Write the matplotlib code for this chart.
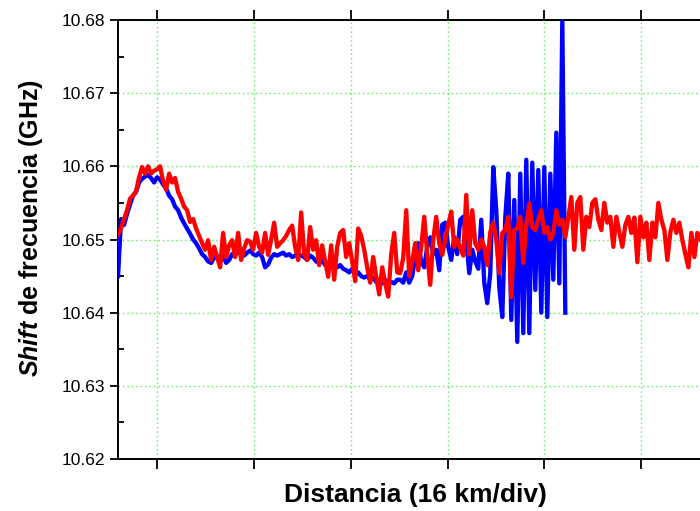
import numpy as np
import matplotlib
matplotlib.use("Agg")
import matplotlib.pyplot as plt
from matplotlib.ticker import MultipleLocator, NullFormatter

plt.rcParams["font.family"] = ["Liberation Sans", "DejaVu Sans"]
plt.rcParams["mathtext.fontset"] = "custom"
plt.rcParams["mathtext.bfit"] = "Liberation Sans:italic:bold"
plt.rcParams["mathtext.rm"] = "Liberation Sans:bold"

# Distance sampling (km): first sample and spacing between samples
DIST_START_KM = 9.56
DIST_STEP_KM = 0.496

# Brillouin frequency shift along the fibre (GHz)
shift_blue = [
    10.6450, 10.6528, 10.6520, 10.6535, 10.6548, 10.6560, 10.6565, 10.6578, 10.6583, 10.6586,
    10.6588, 10.6584, 10.6578, 10.6585, 10.6582, 10.6575, 10.6570, 10.6560, 10.6555, 10.6545,
    10.6540, 10.6530, 10.6522, 10.6515, 10.6508, 10.6500, 10.6495, 10.6488, 10.6480, 10.6476,
    10.6470, 10.6468, 10.6475, 10.6478, 10.6470, 10.6478, 10.6468, 10.6472, 10.6480, 10.6478,
    10.6484, 10.6480, 10.6478, 10.6482, 10.6485, 10.6480, 10.6478, 10.6482, 10.6476, 10.6462,
    10.6466, 10.6475, 10.6480, 10.6478, 10.6480, 10.6482, 10.6478, 10.6480, 10.6476, 10.6478,
    10.6480, 10.6478, 10.6476, 10.6472, 10.6478, 10.6475, 10.6470, 10.6468, 10.6472, 10.6465,
    10.6468, 10.6462, 10.6466, 10.6462, 10.6465, 10.6460, 10.6458, 10.6455, 10.6460, 10.6452,
    10.6455, 10.6450, 10.6448, 10.6450, 10.6445, 10.6448, 10.6442, 10.6445, 10.6440, 10.6445,
    10.6438, 10.6442, 10.6440, 10.6445, 10.6445, 10.6441, 10.6455, 10.6441, 10.6450, 10.6476,
    10.6495, 10.6470, 10.6462, 10.6490, 10.6503, 10.6480, 10.6486, 10.6458, 10.6520, 10.6523,
    10.6490, 10.6472, 10.6503, 10.6480, 10.6527, 10.6531, 10.6500, 10.6454, 10.6486, 10.6470,
    10.6460, 10.6527, 10.6441, 10.6413, 10.6454, 10.6599, 10.6540, 10.6435, 10.6394, 10.6530,
    10.6590, 10.6390, 10.6554, 10.6360, 10.6590, 10.6372, 10.6609, 10.6372, 10.6605, 10.6431,
    10.6595, 10.6400, 10.6599, 10.6394, 10.6590, 10.6445, 10.6646, 10.6440, 10.6800, 10.6400,
]

shift_red = [
    10.6507, 10.6515, 10.6528, 10.6540, 10.6556, 10.6560, 10.6566, 10.6585, 10.6599, 10.6590,
    10.6600, 10.6590, 10.6594, 10.6596, 10.6600, 10.6580, 10.6568, 10.6590, 10.6578, 10.6584,
    10.6565, 10.6556, 10.6545, 10.6540, 10.6524, 10.6528, 10.6515, 10.6505, 10.6495, 10.6486,
    10.6499, 10.6472, 10.6490, 10.6476, 10.6462, 10.6509, 10.6476, 10.6492, 10.6499, 10.6476,
    10.6509, 10.6472, 10.6488, 10.6499, 10.6497, 10.6486, 10.6509, 10.6490, 10.6482, 10.6509,
    10.6479, 10.6500, 10.6523, 10.6490, 10.6495, 10.6499, 10.6505, 10.6513, 10.6519, 10.6490,
    10.6472, 10.6537, 10.6480, 10.6472, 10.6517, 10.6486, 10.6499, 10.6465, 10.6492, 10.6470,
    10.6449, 10.6492, 10.6445, 10.6490, 10.6509, 10.6513, 10.6476, 10.6495, 10.6470, 10.6443,
    10.6515, 10.6505, 10.6486, 10.6462, 10.6441, 10.6476, 10.6449, 10.6425, 10.6462, 10.6440,
    10.6422, 10.6480, 10.6509, 10.6455, 10.6454, 10.6475, 10.6540, 10.6450, 10.6470, 10.6495,
    10.6458, 10.6490, 10.6531, 10.6480, 10.6438, 10.6500, 10.6531, 10.6495, 10.6479, 10.6500,
    10.6520, 10.6538, 10.6490, 10.6500, 10.6488, 10.6478, 10.6561, 10.6480, 10.6540, 10.6495,
    10.6486, 10.6500, 10.6490, 10.6465, 10.6510, 10.6523, 10.6500, 10.6454, 10.6509, 10.6513,
    10.6531, 10.6421, 10.6513, 10.6515, 10.6531, 10.6468, 10.6520, 10.6549, 10.6517, 10.6513,
    10.6527, 10.6540, 10.6509, 10.6517, 10.6500, 10.6509, 10.6540, 10.6520, 10.6527, 10.6503,
    10.6530, 10.6558, 10.6486, 10.6550, 10.6558, 10.6486, 10.6531, 10.6517, 10.6550, 10.6555,
    10.6527, 10.6513, 10.6550, 10.6523, 10.6531, 10.6490, 10.6531, 10.6510, 10.6490, 10.6520,
    10.6531, 10.6509, 10.6530, 10.6469, 10.6531, 10.6503, 10.6523, 10.6472, 10.6523, 10.6503,
    10.6550, 10.6527, 10.6513, 10.6472, 10.6510, 10.6527, 10.6509, 10.6523, 10.6499, 10.6480,
    10.6462, 10.6509, 10.6476, 10.6509, 10.6500,
]

x_ticks_km = [16, 32, 48, 64, 80, 96]
y_ticks = [10.62, 10.63, 10.64, 10.65, 10.66, 10.67, 10.68]

dist_blue = DIST_START_KM + DIST_STEP_KM * np.arange(len(shift_blue))
dist_red = DIST_START_KM + DIST_STEP_KM * np.arange(len(shift_red))

W, H = 700, 511
fig = plt.figure(figsize=(W / 100, H / 100), dpi=100)
# plot frame runs past the right edge of the image
ax = fig.add_axes([118 / W, 52 / H, 620 / W, 439 / H])

ax.plot(dist_blue, shift_blue, color="#0000ff", lw=3.1, solid_joinstyle="round", zorder=3)
ax.plot(dist_red, shift_red, color="#ff0000", lw=3.1, solid_joinstyle="round", zorder=4)

ax.set_xlim(9.55, 112.0)
ax.set_ylim(10.62, 10.68)

ax.set_xticks(x_ticks_km)
ax.xaxis.set_major_formatter(NullFormatter())
ax.set_yticks(y_ticks)
ax.set_yticklabels([f"{v:.2f}" for v in y_ticks])
ax.yaxis.set_minor_locator(MultipleLocator(0.005))

ax.grid(True, which="major", color="#55f055", linestyle=(0, (1, 2.2)), lw=1.0, zorder=1)
ax.set_axisbelow(True)

for side in ("left", "bottom", "top"):
    ax.spines[side].set_linewidth(1.4)
    ax.spines[side].set_color("black")
ax.spines["right"].set_visible(False)

ax.tick_params(axis="x", which="major", direction="out", length=7, width=1.3,
               top=True, bottom=True)
ax.tick_params(axis="y", which="major", direction="out", length=6, width=1.3,
               labelsize=12.5, pad=3)
ax.tick_params(axis="y", which="minor", direction="in", length=4, width=1.3)

fig.text(415 / W, 1 - 495 / H, "Distancia (16 km/div)", ha="center", va="center",
         fontsize=19, fontweight="bold")
fig.text(31 / W, 1 - 228 / H, r"$\mathbfit{Shift}$ de frecuencia (GHz)", ha="center",
         va="center", rotation=90, fontsize=18, fontweight="bold")

fig.savefig("out.png", dpi=100)
